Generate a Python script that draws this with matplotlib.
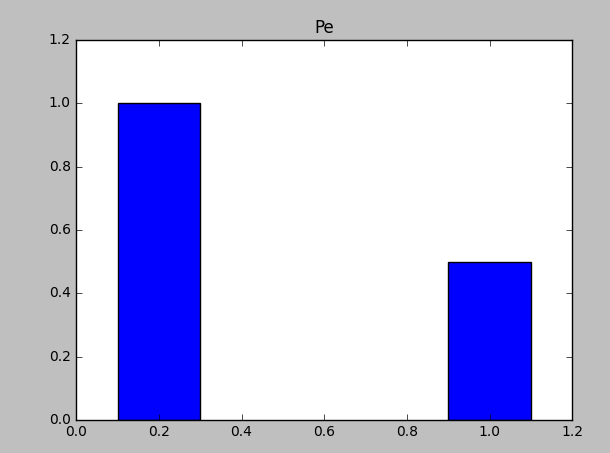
import matplotlib
matplotlib.use('Agg')
import matplotlib.pyplot as plt

plt.style.use('classic')
plt.rcParams['font.size'] = 10

# valori
positions = [0.2, 1.0]
heights = [1.0, 0.5]
bar_width = 0.2

fig = plt.figure(figsize=(6.1, 4.53), dpi=100)
fig.patch.set_facecolor('#bfbfbf')
ax = fig.add_axes([0.125, 0.073, 0.813, 0.839])
ax.bar(positions, heights, width=bar_width, align='center', color='blue', edgecolor='black')
ax.set_xlim(0, 1.2)
ax.set_ylim(0, 1.2)
ax.set_title('Pe', fontsize=12)

fig.savefig('out.png', dpi=100, facecolor=fig.get_facecolor())
